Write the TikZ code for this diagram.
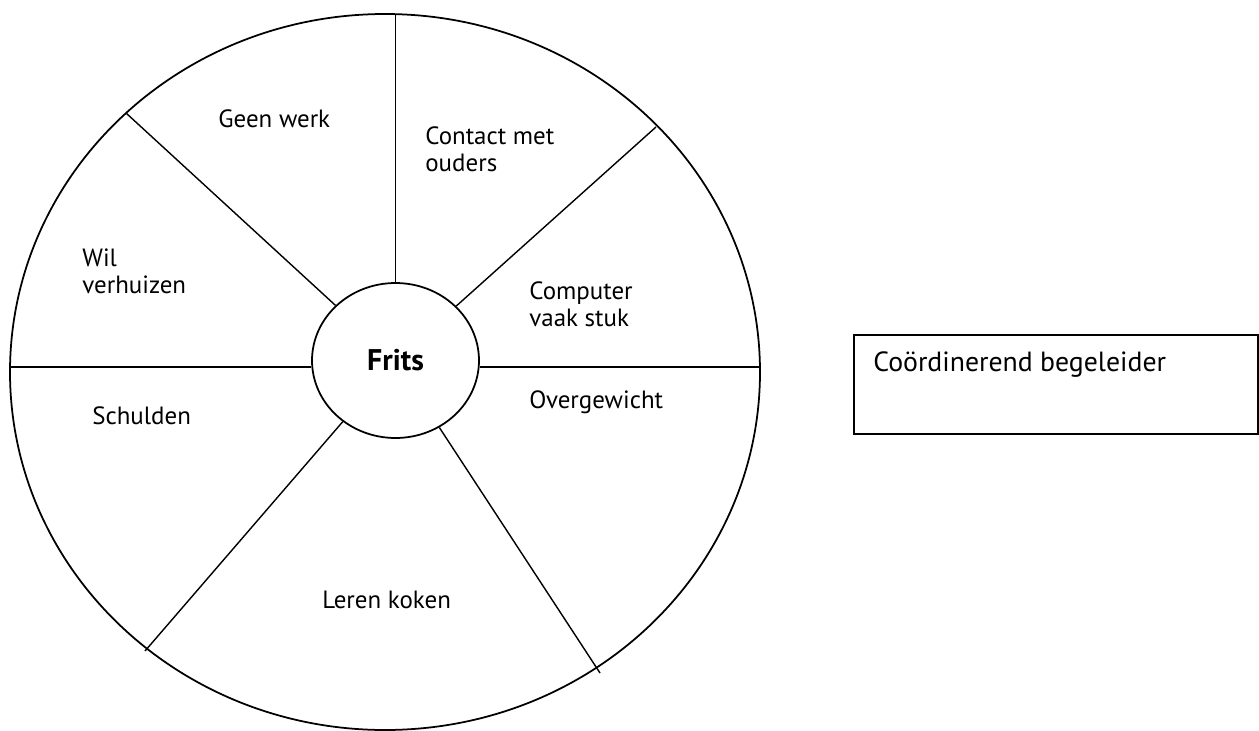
\documentclass[tikz,border=0pt]{standalone}
\usepackage{fontspec}
\setmainfont{PT Sans}
\usetikzlibrary{shapes.geometric}
\tikzset{lbl/.style = {anchor=west, inner sep=0pt, align=left,
                       font=\fontsize{14.2}{15.3}\selectfont}}
\tikzset{hub/.style = {draw, ellipse, line width=1pt, fill=white,
                       minimum width=3.34cm, minimum height=3.1cm, inner sep=0pt,
                       font=\bfseries\fontsize{17}{20}\selectfont}}
\tikzset{spoke/.style = {line width=0.8pt}}

\begin{document}
\begin{tikzpicture}[x=0.02cm, y=-0.02cm]
      \useasboundingbox (0, 0) rectangle (1259, 731);
      \draw [line width=1pt] (385, 372) ellipse [x radius=375, y radius=358];
      \node [hub] (frits) at (395.5, 360.5) {Frits};

      \coordinate (rimN) at (395.5, 14);
      \coordinate (rimNE) at (656, 127);
      \coordinate (rimE) at (760, 367);
      \coordinate (rimSE) at (600, 673);
      \coordinate (rimSW) at (145, 651);
      \coordinate (rimW) at (10, 367);
      \coordinate (rimNW) at (126, 113);

      \draw [spoke] (frits) -- (rimN);
      \draw [spoke] (frits) -- (rimNE);
      \draw [spoke] (frits.east |- rimE) -- (rimE);
      \draw [spoke] (frits) -- (rimSE);
      \draw [spoke] (frits) -- (rimSW);
      \draw [spoke] (frits.west |- rimW) -- (rimW);
      \draw [spoke] (frits) -- (rimNW);

      \node [lbl] (werk) at (218, 119) {Geen werk};
      \node [lbl] (ouders) at (425, 149.5) {Contact met\\ouders};
      \node [lbl] (computer) at (529, 304.5) {Computer\\vaak stuk};
      \node [lbl] (gewicht) at (529, 402) {Overgewicht};
      \node [lbl] (koken) at (322, 600) {Leren koken};
      \node [lbl] (schulden) at (92, 416) {Schulden};
      \node [lbl] (verhuizen) at (82, 271.5) {Wil\\verhuizen};

      \node [draw, line width=1pt, anchor=north west, inner sep=0pt,
             minimum width=8.08cm, minimum height=1.98cm] (cbbox) at (853, 334) {};
      \node [lbl, font=\fontsize{15.8}{18}\selectfont] (cb) at (873, 365) {Coördinerend begeleider};
\end{tikzpicture}
\end{document}
